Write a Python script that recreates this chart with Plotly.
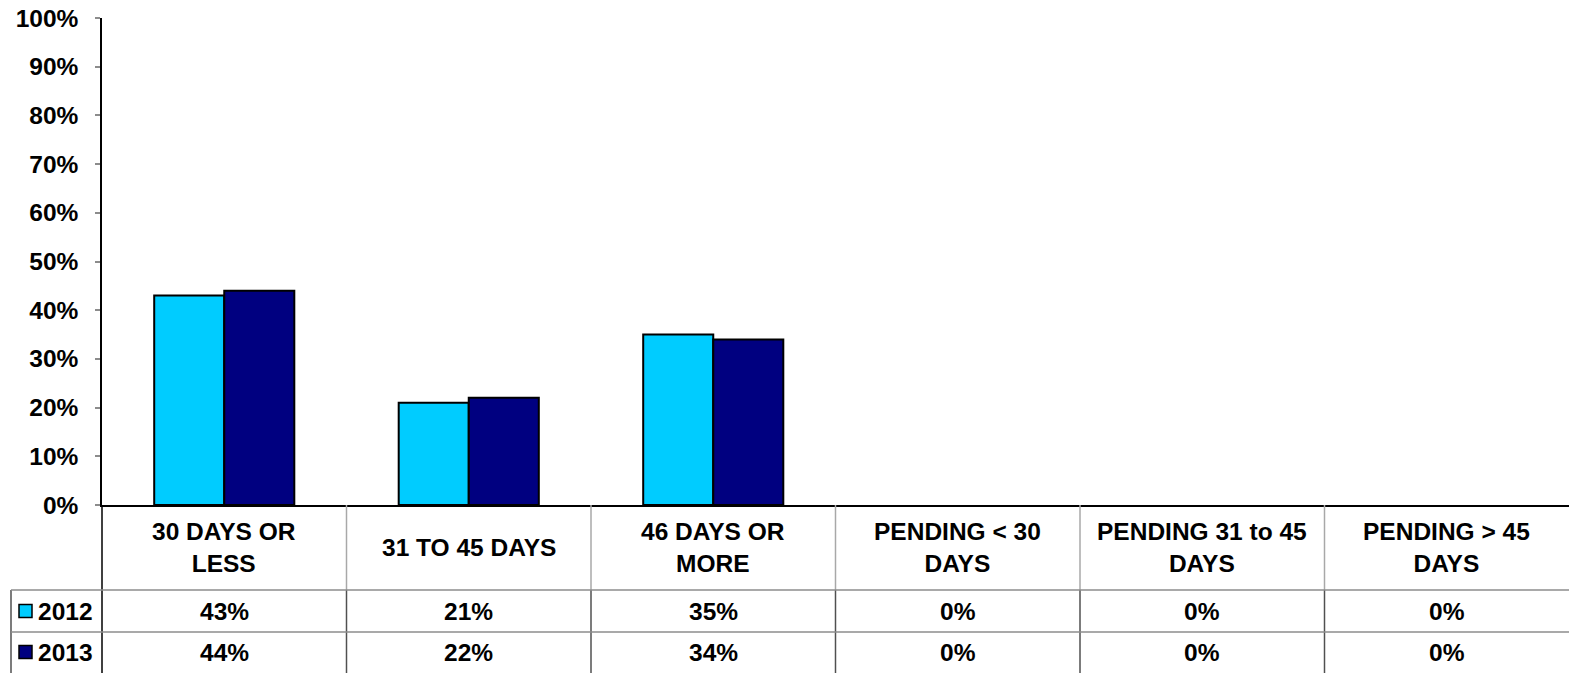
import plotly.graph_objects as go

# chart data
categories = [
    "30 DAYS OR LESS",
    "31 TO 45 DAYS",
    "46 DAYS OR MORE",
    "PENDING < 30 DAYS",
    "PENDING 31 to 45 DAYS",
    "PENDING > 45 DAYS",
]
header_labels = [
    "30 DAYS OR<br>LESS",
    "31 TO 45 DAYS",
    "46 DAYS OR<br>MORE",
    "PENDING &lt; 30<br>DAYS",
    "PENDING 31 to 45<br>DAYS",
    "PENDING &gt; 45<br>DAYS",
]
series_names = ["2012", "2013"]
values_2012 = [0.43, 0.21, 0.35, 0.0, 0.0, 0.0]
values_2013 = [0.44, 0.22, 0.34, 0.0, 0.0, 0.0]
colors = ["#00CCFF", "#000080"]

W, H = 1569, 673
L, R, T, B = 102, 0, 18, 168
PLOT_H = H - T - B
PLOT_W = W - L - R
FONT = "Liberation Sans, Arial, sans-serif"
FS = 24.5


def py(pix):
    # pixel row -> paper y
    return (H - B - pix) / PLOT_H


def px(pix):
    # pixel column -> paper x
    return (pix - L) / PLOT_W


fig = go.Figure()
for name, vals, col in zip(series_names, [values_2012, values_2013], colors):
    fig.add_trace(
        go.Bar(
            x=list(range(len(categories))),
            y=vals,
            name=name,
            marker_color=col,
            marker_line_color="black",
            # zero-height bars draw nothing, like the original
            marker_line_width=[2 if v > 0 else 0 for v in vals],
            hoverinfo="skip",
        )
    )

shapes = []
annotations = []
n = len(categories)
row_lines = [590, 632]

# vertical separators in the table
for k in range(1, n):
    xk = k - 0.5
    shapes.append(dict(type="line", xref="x", yref="paper", x0=xk, x1=xk,
                       y0=py(505), y1=py(590), line=dict(color="#A8A8A8", width=1.5)))
    shapes.append(dict(type="line", xref="x", yref="paper", x0=xk, x1=xk,
                       y0=py(590), y1=py(673), line=dict(color="#505050", width=1.5)))
# left axis continues through the table
shapes.append(dict(type="line", xref="paper", yref="paper", x0=0, x1=0,
                   y0=py(505), y1=py(673), line=dict(color="black", width=1.5)))
# legend column left border
shapes.append(dict(type="line", xref="paper", yref="paper", x0=px(11), x1=px(11),
                   y0=py(590), y1=py(673), line=dict(color="#505050", width=1.5)))
for yl in row_lines:
    shapes.append(dict(type="line", xref="paper", yref="paper", x0=px(11), x1=1,
                       y0=py(yl), y1=py(yl), line=dict(color="#8C8C8C", width=1.5)))

# header labels
for i, lab in enumerate(header_labels):
    annotations.append(dict(x=i, y=py(547), xref="x", yref="paper", text=f"<b>{lab}</b>",
                            showarrow=False, xanchor="center", yanchor="middle",
                            font=dict(size=FS, color="black", family=FONT)))

# value rows with legend keys
row_centers = [611, 652]
for name, vals, col, yc in zip(series_names, [values_2012, values_2013], colors, row_centers):
    shapes.append(dict(type="rect", xref="paper", yref="paper",
                       x0=px(19), x1=px(32), y0=py(yc - 6.5), y1=py(yc + 6.5),
                       fillcolor=col, line=dict(color="black", width=1.5)))
    annotations.append(dict(x=px(36), y=py(yc), xref="paper", yref="paper",
                            text=f"<b>{name}</b>", showarrow=False, xanchor="left",
                            yanchor="middle", font=dict(size=FS, color="black", family=FONT)))
    for i, v in enumerate(vals):
        annotations.append(dict(x=i, y=py(yc), xref="x", yref="paper",
                                text=f"<b>{v:.0%}</b>", showarrow=False,
                                xanchor="center", yanchor="middle",
                                font=dict(size=FS, color="black", family=FONT)))

fig.update_layout(
    width=W,
    height=H,
    margin=dict(l=L, r=R, t=T, b=B, pad=0),
    paper_bgcolor="white",
    plot_bgcolor="white",
    barmode="group",
    bargap=0.427,
    bargroupgap=0,
    showlegend=False,
    shapes=shapes,
    annotations=annotations,
    font=dict(family=FONT, color="black"),
)
fig.update_xaxes(
    range=[-0.5, n - 0.5],
    showticklabels=False,
    showgrid=False,
    zeroline=False,
    showline=True,
    linecolor="black",
    linewidth=1.5,
    ticks="",
)
fig.update_yaxes(
    range=[0, 1],
    dtick=0.1,
    tickformat=".0%",
    showgrid=False,
    zeroline=False,
    showline=True,
    linecolor="black",
    linewidth=1.5,
    ticks="outside",
    ticklen=5,
    tickcolor="#8C8C8C",
    tickwidth=1.5,
    ticklabelstandoff=12,
    tickfont=dict(size=FS, color="black", family=FONT, weight="bold"),
)

# drop the default page margin so the chart sits at the window origin
fig.write_html(
    "out.html",
    config={"displayModeBar": False},
    post_script="document.body.style.margin = '0';",
)
